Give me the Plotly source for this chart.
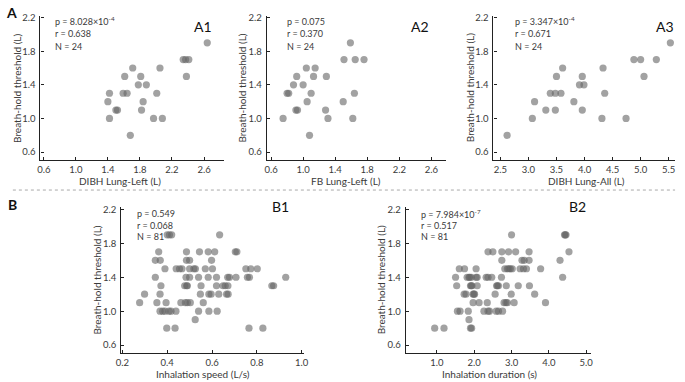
import plotly.graph_objects as go

W, H = 685, 382

# ---------------- data ----------------
a1_x = [2.64, 2.34, 2.37, 2.41, 2.38, 1.71, 2.05, 1.61, 1.81, 1.78, 1.88, 1.42,
        1.59, 1.64, 2.01, 1.40, 1.84, 1.50, 1.52, 1.82, 1.42, 1.97, 2.08, 1.68]
a1_y = [1.9, 1.7, 1.7, 1.7, 1.5, 1.6, 1.6, 1.5, 1.5, 1.4, 1.4, 1.3,
        1.3, 1.3, 1.3, 1.2, 1.2, 1.1, 1.1, 1.1, 1.0, 1.0, 1.0, 0.8]

a2_x = [1.59, 1.51, 1.65, 1.76, 1.04, 1.15, 0.92, 1.13, 1.29, 0.88, 1.00, 0.80,
        0.82, 1.10, 1.64, 1.05, 1.50, 0.91, 0.93, 1.28, 0.75, 1.31, 1.62, 1.08]
a2_y = [1.9, 1.7, 1.7, 1.7, 1.6, 1.6, 1.5, 1.5, 1.5, 1.4, 1.4, 1.3,
        1.3, 1.3, 1.3, 1.2, 1.2, 1.1, 1.1, 1.1, 1.0, 1.0, 1.0, 0.8]

a3_x = [5.53, 4.88, 5.00, 5.28, 3.61, 4.33, 3.50, 3.96, 5.06, 3.91, 3.99, 3.39,
        3.48, 3.58, 4.36, 3.11, 3.81, 3.31, 3.48, 3.96, 3.07, 4.31, 4.74, 2.62]
a3_y = [1.9, 1.7, 1.7, 1.7, 1.6, 1.6, 1.5, 1.5, 1.5, 1.4, 1.4, 1.3,
        1.3, 1.3, 1.3, 1.2, 1.2, 1.1, 1.1, 1.1, 1.0, 1.0, 1.0, 0.8]

b1_x = [0.40, 0.41, 0.42, 0.634,
        0.362, 0.486, 0.544, 0.583, 0.612, 0.704, 0.711,
        0.347, 0.369, 0.486, 0.50, 0.598,
        0.39, 0.44, 0.455, 0.466, 0.50, 0.519, 0.526, 0.57, 0.602, 0.751, 0.773, 0.802,
        0.347, 0.484, 0.50, 0.54, 0.583, 0.62, 0.67, 0.678, 0.707, 0.758, 0.767, 0.929,
        0.372, 0.478, 0.487, 0.49, 0.551, 0.62, 0.649, 0.659, 0.671, 0.867, 0.875,
        0.299, 0.368, 0.548, 0.586, 0.596, 0.63, 0.665, 0.672,
        0.277, 0.354, 0.395, 0.461, 0.481, 0.49, 0.503, 0.561,
        0.368, 0.38, 0.39, 0.408, 0.417, 0.439, 0.54, 0.586, 0.623,
        0.525,
        0.398, 0.435, 0.765, 0.827]
b1_y = [1.9, 1.9, 1.9, 1.9,
        1.7, 1.7, 1.7, 1.7, 1.7, 1.7, 1.7,
        1.6, 1.6, 1.6, 1.6, 1.6,
        1.5, 1.5, 1.5, 1.5, 1.5, 1.5, 1.5, 1.5, 1.5, 1.5, 1.5, 1.5,
        1.4, 1.4, 1.4, 1.4, 1.4, 1.4, 1.4, 1.4, 1.4, 1.4, 1.4, 1.4,
        1.3, 1.3, 1.3, 1.3, 1.3, 1.3, 1.3, 1.3, 1.3, 1.3, 1.3,
        1.2, 1.2, 1.2, 1.2, 1.2, 1.2, 1.2, 1.2,
        1.1, 1.1, 1.1, 1.1, 1.1, 1.1, 1.1, 1.1,
        1.0, 1.0, 1.0, 1.0, 1.0, 1.0, 1.0, 1.0, 1.0,
        0.9,
        0.8, 0.8, 0.8, 0.8]

b2_x = [3.00, 4.42, 4.44, 4.46,
        2.37, 2.50, 2.74, 2.92, 3.11, 3.47, 4.54,
        2.74, 3.28, 3.34, 3.47, 4.30,
        1.60, 1.74, 2.05, 2.82, 2.89, 2.93, 2.97, 3.02, 3.23, 3.32, 3.40, 3.78,
        1.50, 1.81, 1.86, 1.88, 1.92, 2.05, 2.08, 2.32, 2.37, 2.47, 2.73, 4.37,
        1.53, 1.90, 1.92, 1.94, 2.08, 2.60, 2.62, 2.65, 2.86, 3.18, 3.48,
        1.73, 1.78, 1.97, 1.99, 2.01, 2.56, 2.99, 3.62,
        1.97, 2.13, 2.35, 2.80, 2.85, 2.89, 3.07, 3.91,
        1.55, 1.62, 1.84, 2.26, 2.37, 2.41, 2.59, 2.65, 2.76,
        1.86,
        0.94, 1.19, 1.90, 1.93]
b2_y = list(b1_y)

y_ticks = [0.6, 1.0, 1.4, 1.8, 2.2]
a1_xticks = [0.6, 1.0, 1.4, 1.8, 2.2, 2.6]
a2_xticks = [0.6, 1.0, 1.4, 1.8, 2.2, 2.6]
a3_xticks = [2.5, 3.0, 3.5, 4.0, 4.5, 5.0, 5.5]
b1_xticks = [0.2, 0.4, 0.6, 0.8, 1.0]
b2_xticks = [1.0, 2.0, 3.0, 4.0, 5.0]

y_title = "Breath-hold threshold (L)"
x_titles = ["DIBH Lung-Left (L)", "FB Lung-Left (L)", "DIBH Lung-All (L)",
            "Inhalation speed (L/s)", "Inhalation duration (s)"]
panel_names = ["A1", "A2", "A3", "B1", "B2"]
stats = [["p = 8.028×10<sup>-4</sup>", "r = 0.638", "N = 24"],
         ["p = 0.075", "r = 0.370", "N = 24"],
         ["p = 3.347×10<sup>-4</sup>", "r = 0.671", "N = 24"],
         ["p = 0.549", "r = 0.068", "N = 81"],
         ["p = 7.984×10<sup>-7</sup>", "r = 0.517", "N = 81"]]

# ---------------- layout geometry (pixels) ----------------
FONT = "Lato, 'Open Sans', sans-serif"
TXT = "#3a3a3a"

panels = [
    dict(xd=(36, 222), yd=(12, 158), xr=(0.559, 2.846), yr=(0.502, 2.22), xt=a1_xticks, fmt=".1f",
         xs=a1_x, ys=a1_y, ytx=12, xtx=117, stx=49, sty=(17.5, 30.0, 42.5), lab=(201, 23)),
    dict(xd=(265.7, 447.7), yd=(12, 158), xr=(0.547, 2.785), yr=(0.502, 2.22), xt=a2_xticks, fmt=".1f",
         xs=a2_x, ys=a2_y, ytx=241, xtx=346, stx=284, sty=(17.5, 30.0, 42.5), lab=(421, 23)),
    dict(xd=(495.7, 679.5), yd=(12, 158), xr=(2.377, 5.605), yr=(0.502, 2.22), xt=a3_xticks, fmt=".1f",
         xs=a3_x, ys=a3_y, ytx=472, xtx=590, stx=516, sty=(17.5, 30.0, 42.5), lab=(670, 23)),
    dict(xd=(118, 303.3), yd=(205, 352.7), xr=(0.195, 1.01), yr=(0.507, 2.23), xt=b1_xticks, fmt=".1f",
         xs=b1_x, ys=b1_y, ytx=93, xtx=201, stx=132, sty=(212, 223.5, 235), lab=(280, 205)),
    dict(xd=(406.7, 594.3), yd=(205, 352.7), xr=(0.165, 5.12), yr=(0.507, 2.23), xt=b2_xticks, fmt=".1f",
         xs=b2_x, ys=b2_y, ytx=382, xtx=492, stx=420, sty=(212, 223.5, 235), lab=(581, 205)),
]

fig = go.Figure()
annotations = []
layout_axes = {}


def px_x(v):
    return v / W


def px_y(v):
    return 1 - v / H


for i, p in enumerate(panels):
    n = i + 1
    xa = "x" if n == 1 else f"x{n}"
    ya = "y" if n == 1 else f"y{n}"
    fig.add_trace(go.Scatter(
        x=p["xs"], y=p["ys"], mode="markers", xaxis=xa, yaxis=ya,
        marker=dict(size=7.2, color="rgb(100,100,100)", opacity=0.6, line=dict(width=0)),
        showlegend=False, hoverinfo="x+y"))
    axcommon = dict(showline=True, linecolor="#222", linewidth=1.3, ticks="inside",
                    ticklen=3, tickcolor="#222", tickwidth=1, showgrid=False, zeroline=False,
                    tickfont=dict(family=FONT, size=9.5, color=TXT), fixedrange=True)
    layout_axes["xaxis" if n == 1 else f"xaxis{n}"] = dict(
        domain=[px_x(p["xd"][0]), px_x(p["xd"][1])], range=list(p["xr"]),
        tickvals=p["xt"], tickformat=p["fmt"], anchor=ya, ticklabelstandoff=0, **axcommon)
    layout_axes["yaxis" if n == 1 else f"yaxis{n}"] = dict(
        domain=[px_y(p["yd"][1]), px_y(p["yd"][0])], range=list(p["yr"]),
        tickvals=y_ticks, tickformat=".1f", anchor=xa, ticklabelstandoff=2, **axcommon)

    annotations.append(dict(x=px_x(p["xtx"]), y=px_y(p["yd"][1] + 21), xref="paper", yref="paper",
                            text=x_titles[i], showarrow=False, xanchor="center", yanchor="middle",
                            font=dict(family=FONT, size=10, color=TXT)))
    annotations.append(dict(x=px_x(p["ytx"]), y=px_y((p["yd"][0] + p["yd"][1]) / 2), xref="paper",
                            yref="paper", text=y_title, showarrow=False, textangle=-90,
                            xanchor="center", yanchor="middle",
                            font=dict(family=FONT, size=10, color=TXT)))
    for line, yy in zip(stats[i], p["sty"]):
        annotations.append(dict(x=px_x(p["stx"]), y=px_y(yy), xref="paper", yref="paper",
                                text=line, showarrow=False, xanchor="left", yanchor="middle",
                                font=dict(family=FONT, size=9, color=TXT)))
    annotations.append(dict(x=px_x(p["lab"][0]), y=px_y(p["lab"][1]), xref="paper", yref="paper",
                            text=panel_names[i], showarrow=False, xanchor="center", yanchor="middle",
                            font=dict(family=FONT, size=14, color="#111")))

for letter, (lx, ly) in [("A", (7, 9)), ("B", (8, 203))]:
    annotations.append(dict(x=px_x(lx), y=px_y(ly), xref="paper", yref="paper",
                            text=f"<b>{letter}</b>", showarrow=False, xanchor="center",
                            yanchor="middle", font=dict(family=FONT, size=14, color="#111")))

fig.update_layout(
    width=W, height=H, margin=dict(l=0, r=0, t=0, b=0),
    paper_bgcolor="white", plot_bgcolor="white",
    annotations=annotations,
    shapes=[dict(type="line", xref="paper", yref="paper", x0=px_x(8), x1=px_x(680),
                 y0=px_y(188), y1=px_y(188), line=dict(color="#aaaaaa", width=1, dash="dot"))],
    **layout_axes)

fig.write_html("out.html", config={"displayModeBar": False},
               post_script="document.body.style.margin='0px';document.body.style.padding='0px';"
                           "document.documentElement.style.overflow='hidden';")
